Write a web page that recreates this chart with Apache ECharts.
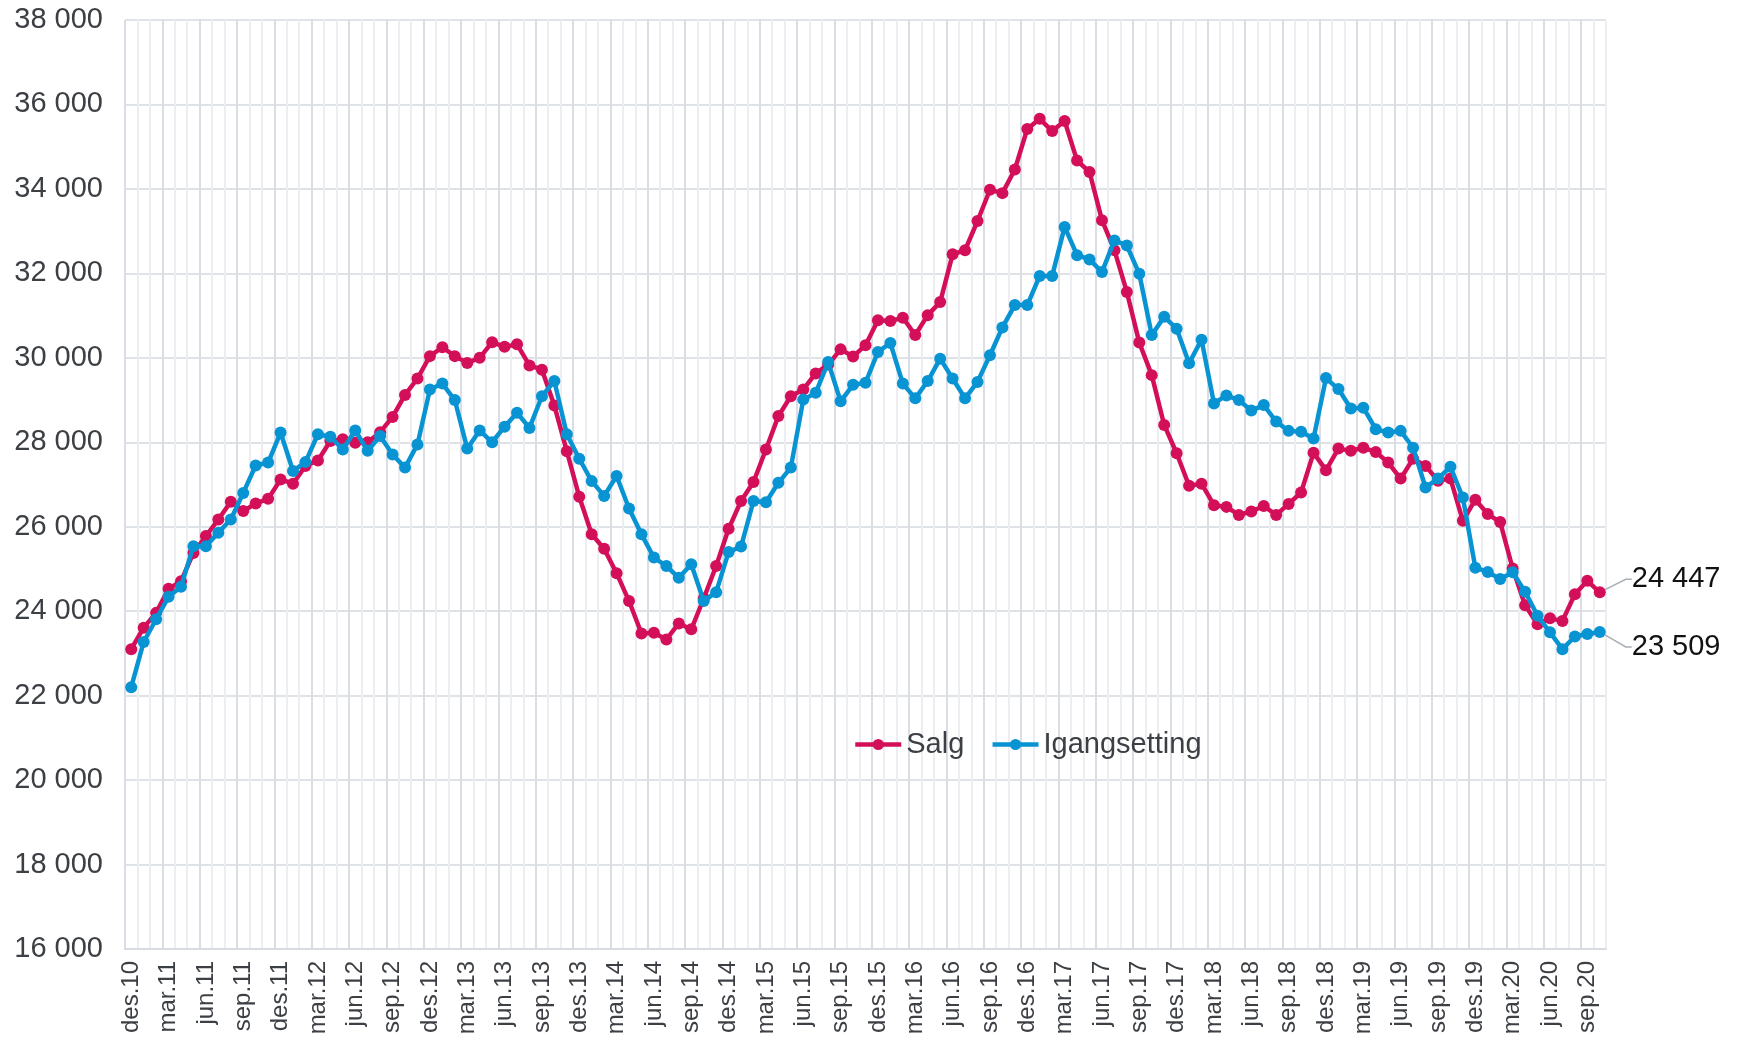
<!DOCTYPE html>
<html>
<head>
<meta charset="utf-8">
<title>Salg og igangsetting</title>
<script src="https://cdn.jsdelivr.net/npm/echarts@6/dist/echarts.min.js"></script>
<style>
  html, body { margin: 0; padding: 0; background: #fff; }
  #chart { width: 1737px; height: 1041px; }
</style>
</head>
<body>
<div id="chart"></div>
<script>
// måneder og år for kategoriaksen (des.10 - okt.20)
const monthNames = ['jan', 'feb', 'mar', 'apr', 'mai', 'jun', 'jul', 'aug', 'sep', 'okt', 'nov', 'des'];
const firstYear = 10, firstMonth = 11, pointCount = 119;
const categories = [];
for (let k = 0; k < pointCount; k++) {
  const m = (firstMonth + k) % 12;
  const y = firstYear + Math.floor((firstMonth + k) / 12);
  categories.push(monthNames[m] + '.' + y);
}

const salg = [
  23100, 23610, 23960, 24530, 24710, 25380, 25780, 26170, 26590, 26370,
  26550, 26660, 27120, 27020, 27440, 27570, 28030, 28070, 27990, 28000,
  28240, 28600, 29120, 29510, 30040, 30250, 30040, 29880, 30000, 30370,
  30260, 30320, 29820, 29720, 28870, 27790, 26710, 25820, 25480, 24900,
  24240, 23470, 23490, 23330, 23710, 23570, 24300, 25070, 25950, 26610,
  27060, 27830, 28620, 29090, 29250, 29630, 29840, 30200, 30030, 30300,
  30890, 30870, 30950, 30540, 31010, 31320, 32450, 32550, 33240, 33980,
  33900, 34460, 35420, 35660, 35370, 35610, 34670, 34400, 33260, 32550,
  31560, 30360, 29590, 28410, 27740, 26970, 27020, 26510, 26470, 26280,
  26360, 26490, 26280, 26540, 26810, 27750, 27340, 27850, 27800, 27870,
  27770, 27520, 27140, 27610, 27440, 27090, 27140, 26140, 26640, 26300,
  26110, 25010, 24140, 23690, 23830, 23770, 24400, 24720, 24447
];

const igangsetting = [
  22200, 23270, 23810, 24340, 24580, 25540, 25540, 25860, 26170, 26800,
  27450, 27520, 28230, 27320, 27530, 28190, 28130, 27830, 28280, 27800,
  28150, 27710, 27400, 27950, 29250, 29390, 29000, 27850, 28280, 28000,
  28370, 28700, 28340, 29090, 29450, 28190, 27610, 27080, 26730, 27200,
  26430, 25820, 25270, 25070, 24790, 25110, 24240, 24450, 25400, 25530,
  26610, 26580, 27040, 27400, 29010, 29170, 29900, 28970, 29360, 29410,
  30140, 30350, 29390, 29040, 29450, 29980, 29510, 29040, 29430, 30060,
  30720, 31250, 31250, 31940, 31940, 33100, 32430, 32330, 32030, 32780,
  32660, 31990, 30540, 30970, 30690, 29870, 30430, 28920, 29110, 29000,
  28750, 28880, 28490, 28270, 28250, 28090, 29520, 29260, 28800, 28820,
  28310, 28230, 28270, 27870, 26930, 27140, 27420, 26690, 25030, 24930,
  24760, 24920, 24460, 23890, 23500, 23100, 23400, 23460, 23509
];

const yMin = 16000, yMax = 38000, yStep = 2000;

const fontFamily = "'Liberation Sans', Arial, sans-serif";
const redColor = '#d40f59';
const blueColor = '#0893d3';

function spaced(v) {
  return String(Math.round(v)).replace(/\B(?=(\d{3})+(?!\d))/g, ' ');
}

// siste punkt får verdi-etikett med strek
function withEndLabel(values) {
  return values.map((v, i) => {
    if (i !== values.length - 1) return v;
    return {
      value: v,
      label: {
        show: true,
        position: 'right',
        distance: 4,
        formatter: p => spaced(p.value),
        color: '#111',
        fontSize: 29,
        fontFamily: fontFamily
      },
      labelLine: { show: true }
    };
  });
}

const chart = echarts.init(document.getElementById('chart'));

const option = {
  animation: false,
  backgroundColor: '#fff',
  grid: { left: 125, right: 131, top: 20, bottom: 92 },
  legend: {
    left: 848,
    top: 725,
    itemWidth: 46,
    itemHeight: 14,
    itemGap: 26,
    lineStyle: { width: 4.5 },
    textStyle: { fontSize: 29, color: '#3c3f44', fontFamily: fontFamily },
    data: ['Salg', 'Igangsetting']
  },
  xAxis: {
    type: 'category',
    boundaryGap: true,
    data: categories,
    axisLine: { lineStyle: { color: '#d8dce2', width: 2 } },
    axisTick: { show: false },
    axisLabel: {
      interval: 2,
      rotate: 90,
      margin: 12,
      fontSize: 24,
      color: '#3c3f44',
      fontFamily: fontFamily
    },
    splitLine: {
      show: true,
      interval: 0,
      lineStyle: { color: ['#dadee4', '#eceef2', '#eceef2'], width: 2 }
    }
  },
  yAxis: {
    type: 'value',
    min: yMin,
    max: yMax,
    interval: yStep,
    axisLine: { show: false },
    axisTick: { show: false },
    axisLabel: {
      margin: 22,
      fontSize: 29,
      color: '#3c3f44',
      fontFamily: fontFamily,
      formatter: v => spaced(v)
    },
    splitLine: { lineStyle: { color: '#dfe2e7', width: 2 } }
  },
  series: [
    {
      name: 'Salg',
      type: 'line',
      data: withEndLabel(salg),
      symbol: 'circle',
      symbolSize: 12,
      showAllSymbol: true,
      itemStyle: { color: redColor },
      lineStyle: { color: redColor, width: 4.5 },
      labelLayout: { dx: 22, dy: -13 },
      labelLine: { show: true, length2: 6, lineStyle: { color: '#a9aeb5', width: 1.5 } },
      z: 2
    },
    {
      name: 'Igangsetting',
      type: 'line',
      data: withEndLabel(igangsetting),
      symbol: 'circle',
      symbolSize: 12,
      showAllSymbol: true,
      itemStyle: { color: blueColor },
      lineStyle: { color: blueColor, width: 4.5 },
      labelLayout: { dx: 22, dy: 15 },
      labelLine: { show: true, length2: 6, lineStyle: { color: '#a9aeb5', width: 1.5 } },
      z: 3
    }
  ]
};

chart.setOption(option);
</script>
</body>
</html>
